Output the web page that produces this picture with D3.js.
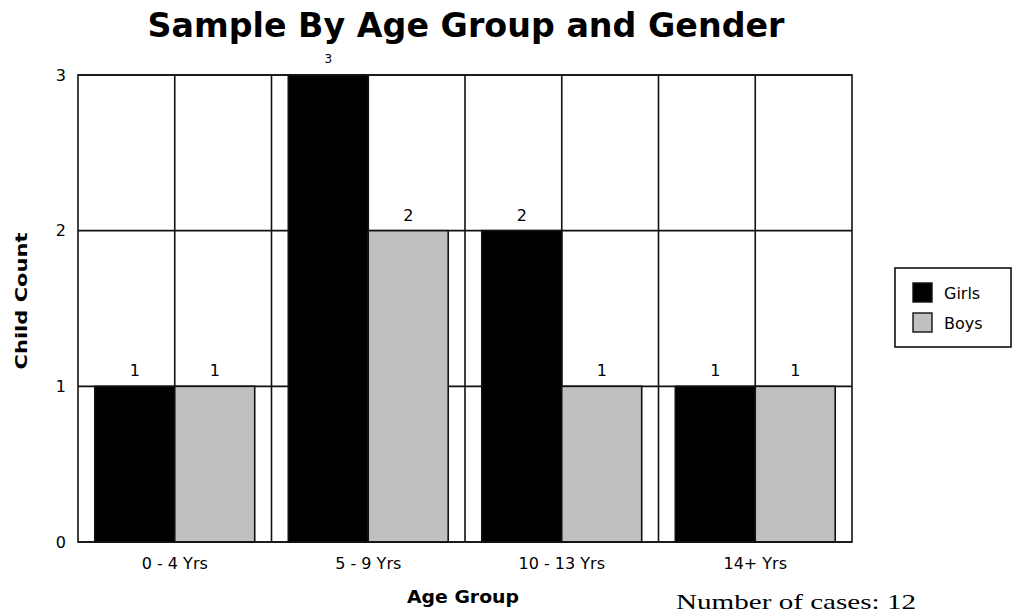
<!DOCTYPE html>
<html>
<head>
<meta charset="utf-8">
<script src="https://cdn.jsdelivr.net/npm/d3@7"></script>
<style>
  html, body { margin: 0; padding: 0; background: #fff; }
  svg { display: block; }
</style>
</head>
<body>
<div id="chart"></div>
<script>
// Child counts per age group, split by gender
const categories = ["0 - 4 Yrs", "5 - 9 Yrs", "10 - 13 Yrs", "14+ Yrs"];
const seriesNames = ["Girls", "Boys"];
const girls = [1, 3, 2, 1];
const boys = [1, 2, 1, 1];
const yTicks = [0, 1, 2, 3];
const caseCount = 12;

const colors = { Girls: "#000000", Boys: "#c0c0c0" };
const W = 1013, H = 615;
const plot = { left: 78, right: 852, top: 75, bottom: 542 };

const svg = d3.select("#chart").append("svg")
  .attr("width", W).attr("height", H);

const rows = categories.map((c, i) => ({ cat: c, Girls: girls[i], Boys: boys[i] }));

const x0 = d3.scaleBand().domain(categories).range([plot.left, plot.right]).padding(0);
const x1 = d3.scaleBand().domain(seriesNames).range([0, x0.bandwidth()])
  .paddingInner(0).paddingOuter(0.21);
const y = d3.scaleLinear().domain([0, d3.max(yTicks)]).range([plot.bottom, plot.top]);

const lineColor = "#111";
const lineW = 1.6;

// grid: horizontal lines at each tick, vertical lines at band edges and band centres
const grid = svg.append("g");
grid.selectAll("line.h").data(yTicks).join("line")
  .attr("x1", plot.left).attr("x2", plot.right)
  .attr("y1", d => y(d)).attr("y2", d => y(d))
  .attr("stroke", lineColor).attr("stroke-width", lineW);
const vPos = [];
categories.forEach((c, i) => {
  if (i > 0) vPos.push(x0(c));
  vPos.push(x0(c) + x0.bandwidth() / 2);
});
grid.selectAll("line.v").data(vPos).join("line")
  .attr("x1", d => d).attr("x2", d => d)
  .attr("y1", plot.top).attr("y2", plot.bottom)
  .attr("stroke", lineColor).attr("stroke-width", lineW);

// bars
const groups = svg.append("g").selectAll("g").data(rows).join("g")
  .attr("transform", d => `translate(${x0(d.cat)},0)`);
groups.selectAll("rect").data(d => seriesNames.map(k => ({ key: k, value: d[k] }))).join("rect")
  .attr("x", d => x1(d.key))
  .attr("y", d => y(d.value))
  .attr("width", x1.bandwidth())
  .attr("height", d => y(0) - y(d.value))
  .attr("fill", d => colors[d.key])
  .attr("stroke", lineColor).attr("stroke-width", lineW);

// value labels above each bar (smaller when the bar reaches the top of the frame)
const yMax = d3.max(yTicks);
groups.selectAll("text").data(d => seriesNames.map(k => ({ key: k, value: d[k] }))).join("text")
  .attr("x", d => x1(d.key) + x1.bandwidth() / 2)
  .attr("y", d => y(d.value) - (d.value >= yMax ? 12 : 10))
  .attr("text-anchor", "middle")
  .attr("font-family", "DejaVu Sans, sans-serif")
  .attr("font-size", d => d.value >= yMax ? 12 : 16)
  .attr("fill", "#000")
  .text(d => d.value);

// plot frame
svg.append("rect")
  .attr("x", plot.left).attr("y", plot.top)
  .attr("width", plot.right - plot.left).attr("height", plot.bottom - plot.top)
  .attr("fill", "none").attr("stroke", lineColor).attr("stroke-width", lineW);

// y axis labels
const yAxis = svg.append("g")
  .attr("transform", `translate(${plot.left - 12},0)`)
  .call(d3.axisLeft(y).tickValues(yTicks).tickSize(0).tickPadding(0).tickFormat(d3.format("d")));
yAxis.select(".domain").remove();
yAxis.selectAll("text")
  .attr("font-family", "DejaVu Sans, sans-serif")
  .attr("font-size", 16).attr("fill", "#000");

// x axis labels
const xAxis = svg.append("g")
  .attr("transform", `translate(0,${plot.bottom})`)
  .call(d3.axisBottom(x0).tickSize(0).tickPadding(16));
xAxis.select(".domain").remove();
xAxis.selectAll("text")
  .attr("font-family", "DejaVu Sans, sans-serif")
  .attr("font-size", 16).attr("fill", "#000");

// titles
svg.append("text")
  .attr("x", 466).attr("y", 37)
  .attr("text-anchor", "middle")
  .attr("font-family", "DejaVu Sans, sans-serif")
  .attr("font-weight", "bold").attr("font-size", 33)
  .attr("textLength", 637).attr("lengthAdjust", "spacingAndGlyphs")
  .text("Sample By Age Group and Gender");

svg.append("text")
  .attr("x", 463).attr("y", 603)
  .attr("text-anchor", "middle")
  .attr("font-family", "DejaVu Sans, sans-serif")
  .attr("font-weight", "bold").attr("font-size", 18)
  .attr("textLength", 112).attr("lengthAdjust", "spacingAndGlyphs")
  .text("Age Group");

svg.append("text")
  .attr("transform", "translate(27,301) rotate(-90)")
  .attr("text-anchor", "middle")
  .attr("font-family", "DejaVu Sans, sans-serif")
  .attr("font-weight", "bold").attr("font-size", 16)
  .attr("textLength", 137).attr("lengthAdjust", "spacingAndGlyphs")
  .text("Child Count");

// legend
const legend = svg.append("g");
legend.append("rect")
  .attr("x", 895).attr("y", 268).attr("width", 116).attr("height", 79)
  .attr("fill", "#fff").attr("stroke", lineColor).attr("stroke-width", lineW);
const items = legend.selectAll("g.item").data(seriesNames).join("g")
  .attr("transform", (d, i) => `translate(913,${283 + i * 30})`);
items.append("rect")
  .attr("width", 19).attr("height", 19)
  .attr("fill", d => colors[d])
  .attr("stroke", lineColor).attr("stroke-width", 1.4);
items.append("text")
  .attr("x", 31).attr("y", 16)
  .attr("font-family", "DejaVu Sans, sans-serif")
  .attr("font-size", 16).attr("fill", "#000")
  .text(d => d);

// case count note
svg.append("text")
  .attr("x", 676).attr("y", 609)
  .attr("font-family", "Liberation Serif, Times New Roman, serif")
  .attr("font-size", 22)
  .attr("textLength", 240).attr("lengthAdjust", "spacingAndGlyphs")
  .text("Number of cases: " + caseCount);
</script>
</body>
</html>
